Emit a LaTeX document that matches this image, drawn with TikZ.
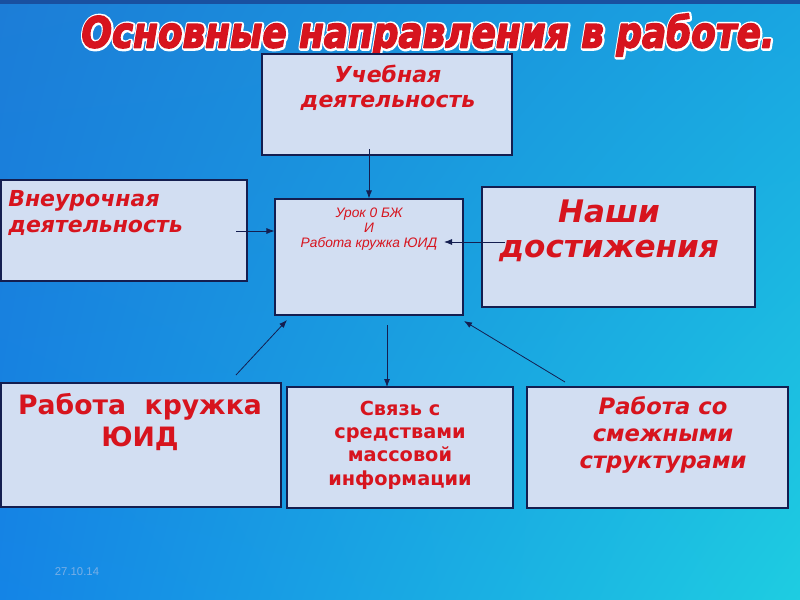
\documentclass[tikz,border=0pt]{standalone}
\usepackage{fontspec}
\setmainfont{DejaVu Sans}
\newfontfamily\arialf{Liberation Sans}
\usetikzlibrary{arrows.meta,fit,shadings}
\definecolor{boxfill}{RGB}{210,222,242}
\definecolor{boxline}{RGB}{20,30,80}
\definecolor{txtred}{RGB}{215,20,30}
\definecolor{bgUL}{RGB}{28,125,215}
\definecolor{bgUR}{RGB}{25,165,225}
\definecolor{bgLL}{RGB}{20,132,230}
\definecolor{bgLR}{RGB}{30,205,225}
\definecolor{topband}{RGB}{25,80,160}
\definecolor{datecol}{RGB}{120,175,230}
% #1 fill colour, #2 stroke colour (pdf RG), #3 stroke width
\newcommand\titletext[3]{\resizebox{519.75pt}{\height}{\fontsize{32}{32}\selectfont\bfseries\itshape\color{#1}\special{pdf:code q 2 Tr #3 w #2 RG 1 j}Основные направления в работе.\special{pdf:code Q}}}
\begin{document}
\begin{tikzpicture}[x=0.75pt,y=-0.75pt,
  box/.style={draw=boxline, line width=0.8pt, fill=boxfill, inner sep=0pt},
  lbl/.style={text=txtred, align=center, inner sep=0pt},
  conn/.style={draw=boxline, line width=0.6pt, -{Latex[length=6pt,width=4.5pt]}}]
% background
\shade[upper left=bgUL, upper right=bgUR, lower left=bgLL, lower right=bgLR] (0,0) rectangle (800,600);
\fill[topband] (0,0) rectangle (800,4);
\useasboundingbox (0,0) rectangle (800,600);
% title: white halo underneath, red text on top
\node[inner sep=0pt] (titlehalo) at (428.6,35.6) {\titletext{white}{1 1 1}{4.2}};
\node[inner sep=0pt] (title) at (428,35) {\titletext{txtred}{0.84 0.08 0.12}{1.2}};
% boxes
\node[box, fit={(262,54) (512,155)}] (b1) {};
\node[box, fit={(1,180) (247,281)}] (b2) {};
\node[box, fit={(275,199) (463,315)}] (c) {};
\node[box, fit={(482,187) (755,307)}] (b4) {};
\node[box, fit={(1,383) (281,507)}] (d1) {};
\node[box, fit={(287,387) (513,508)}] (d2) {};
\node[box, fit={(527,387) (788,508)}] (d3) {};
% texts
\node[lbl, font=\fontsize{16.5}{19}\selectfont\bfseries\itshape] (t1) at (388,88) {Учебная\\деятельность};
\node[lbl, align=left, anchor=west, font=\fontsize{16.5}{19}\selectfont\bfseries\itshape] (t2) at (8,213) {Внеурочная\\деятельность};
\node[lbl, font=\arialf\fontsize{10.3}{11.5}\selectfont\itshape] (tc) at (369,229) {Урок 0 БЖ\\И\\Работа кружка ЮИД};
\node[lbl, font=\fontsize{23.3}{26.5}\selectfont\bfseries\itshape] (t4) at (609,231) {Наши\\достижения};
\node[lbl, font=\fontsize{20}{24}\selectfont\bfseries] (e1) at (140,422) {Работа\ \ кружка\\ЮИД};
\node[lbl, font=\fontsize{14.5}{17.5}\selectfont\bfseries] (e2) at (400,445) {Связь с\\средствами\\массовой\\информации};
\node[lbl, font=\fontsize{17}{20}\selectfont\bfseries\itshape] (e3) at (663,435) {Работа со\\смежными\\структурами};
% date
\node[text=datecol, font=\arialf\fontsize{8.5}{10}\selectfont, inner sep=0pt] (date) at (77,572) {27.10.14};
% connectors
\coordinate (s1) at (369,149);
\coordinate (s2) at (236,231);
\coordinate (s3) at (505,242);
\coordinate (e3p) at (444,242);
\coordinate (s4) at (236,375);
\coordinate (e4p) at (287,320);
\coordinate (s5) at (387,325);
\coordinate (e5p) at (387,387);
\coordinate (s6) at (565,382);
\coordinate (e6p) at (464,321);
\draw[conn] (s1) -- (c.north);
\draw[conn] (s2) -- (s2 -| c.west);
\draw[conn] (s3) -- (e3p);
\draw[conn] (s4) -- (e4p);
\draw[conn] (s5) -- (e5p);
\draw[conn] (s6) -- (e6p);
\end{tikzpicture}
\end{document}
